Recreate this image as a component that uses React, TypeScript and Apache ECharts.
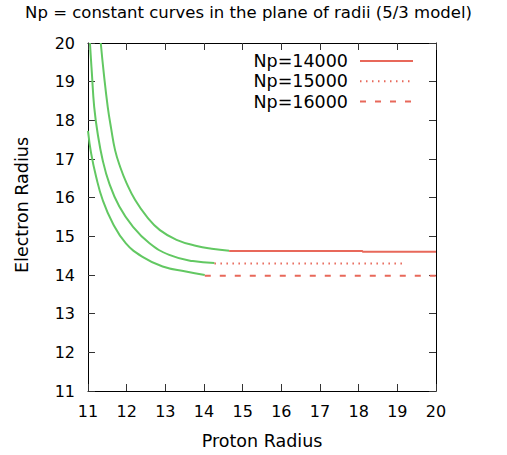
import React, { useEffect, useRef } from "react";
import * as echarts from "echarts";

const titleText = "Np = constant curves in the plane of radii (5/3 model)";
const xAxisName = "Proton Radius";
const yAxisName = "Electron Radius";
const legendNames = ["Np=14000", "Np=15000", "Np=16000"];

// Np=14000 (solid)
const a14GreenX = [11.33, 11.41, 11.51, 11.6, 11.7, 11.83, 12.0, 12.22, 12.52, 12.86, 13.29, 13.81, 14.2, 14.65];
const a14GreenY = [20.0, 19.2, 18.35, 17.78, 17.23, 16.8, 16.37, 15.94, 15.51, 15.16, 14.91, 14.75, 14.68, 14.63];
const a14RedX = [14.65, 18.1, 18.1, 20.0];
const a14RedY = [14.62, 14.62, 14.6, 14.6];

// Np=15000 (dotted)
const b15GreenX = [11.05, 11.1, 11.16, 11.25, 11.38, 11.55, 11.81, 12.16, 12.59, 13.1, 13.71, 14.27];
const b15GreenY = [20.0, 19.22, 18.35, 17.66, 16.97, 16.37, 15.77, 15.25, 14.82, 14.52, 14.36, 14.31];
const b15RedX = [14.27, 19.18];
const b15RedY = [14.3, 14.3];

// Np=16000 (dashed)
const c16GreenX = [11.0, 11.08, 11.21, 11.38, 11.64, 11.98, 12.41, 12.93, 13.53, 14.02];
const c16GreenY = [17.73, 17.15, 16.54, 15.94, 15.34, 14.82, 14.47, 14.22, 14.09, 14.0];
const c16RedX = [14.02, 20.0];
const c16RedY = [13.98, 13.98];

const axisMin = 11;
const axisMax = 20;
const axisInterval = 1;

const GREEN = "#62c862";
const RED = "#e8685a";
const FONT = "DejaVu Sans";

const zip = (xs: number[], ys: number[]) => xs.map((x, i) => [x, ys[i]]);

export default function App() {
  const ref = useRef<HTMLDivElement>(null);
  useEffect(() => {
    if (!ref.current) return;
    const chart = echarts.init(ref.current, undefined, { renderer: "svg" });
    const baseAxis = {
      min: axisMin,
      max: axisMax,
      interval: axisInterval,
      axisLine: { show: true, onZero: false, lineStyle: { color: "#000", width: 1 } },
      axisTick: { show: true, inside: true, length: 7, lineStyle: { color: "#333", width: 1 } },
      splitLine: { show: false },
    };
    const greenSeries = (name: string, data: number[][]) => ({
      type: "line",
      name,
      data,
      showSymbol: false,
      symbol: "none",
      smooth: 0.45,
      lineStyle: { color: GREEN, width: 2 },
      itemStyle: { color: GREEN },
      z: 2,
    });
    const redSeries = (name: string, data: number[][], type: any) => ({
      type: "line",
      name,
      data,
      showSymbol: false,
      symbol: "none",
      lineStyle: { color: RED, width: 2, type },
      itemStyle: { color: RED },
      z: 3,
    });
    chart.setOption({
      animation: false,
      backgroundColor: "#fff",
      textStyle: { fontFamily: FONT },
      grid: { left: 88, right: 71, top: 43, bottom: 64 },
      legend: {
        data: legendNames,
        orient: "vertical",
        align: "right",
        right: 93,
        top: 51,
        padding: 0,
        itemWidth: 53,
        itemHeight: 14,
        itemGap: 0.3,
        itemStyle: { color: "rgba(0,0,0,0)", opacity: 0, borderWidth: 0 },
        textStyle: {
          fontFamily: FONT,
          fontSize: 17.5,
          lineHeight: 20,
          color: "#000",
          padding: [0, 7, 0, 0],
        },
      },
      xAxis: [
        {
          ...baseAxis,
          type: "value",
          position: "bottom",
          name: xAxisName,
          nameLocation: "middle",
          nameGap: 41,
          nameTextStyle: { fontFamily: FONT, fontSize: 17.5, color: "#000" },
          axisLabel: { fontFamily: FONT, fontSize: 16, color: "#000", margin: 12 },
        },
        {
          ...baseAxis,
          type: "value",
          position: "top",
          axisLabel: { show: false },
        },
      ],
      yAxis: [
        {
          ...baseAxis,
          type: "value",
          position: "left",
          axisLabel: { fontFamily: FONT, fontSize: 16, color: "#000", margin: 13 },
        },
        {
          ...baseAxis,
          type: "value",
          position: "right",
          axisLabel: { show: false },
        },
      ],
      graphic: [
        {
          type: "text",
          x: 248.5,
          y: 4,
          style: {
            text: titleText,
            fontFamily: FONT,
            fontSize: 16.5,
            fill: "#000",
            align: "center",
            verticalAlign: "top",
          },
        },
        {
          type: "text",
          x: 22,
          y: 205,
          rotation: Math.PI / 2,
          style: {
            text: yAxisName,
            fontFamily: FONT,
            fontSize: 17.5,
            fill: "#000",
            align: "center",
            verticalAlign: "middle",
          },
        },
      ],
      series: [
        greenSeries("g14000", zip(a14GreenX, a14GreenY)),
        greenSeries("g15000", zip(b15GreenX, b15GreenY)),
        greenSeries("g16000", zip(c16GreenX, c16GreenY)),
        redSeries(legendNames[0], zip(a14RedX, a14RedY), "solid"),
        redSeries(legendNames[1], zip(b15RedX, b15RedY), [1.5, 4.5]),
        redSeries(legendNames[2], zip(c16RedX, c16RedY), [6, 9]),
      ],
    });
    return () => chart.dispose();
  }, []);
  return (
    <div
      ref={ref}
      style={{ position: "absolute", left: 0, top: 0, width: 507, height: 455 }}
    />
  );
}
